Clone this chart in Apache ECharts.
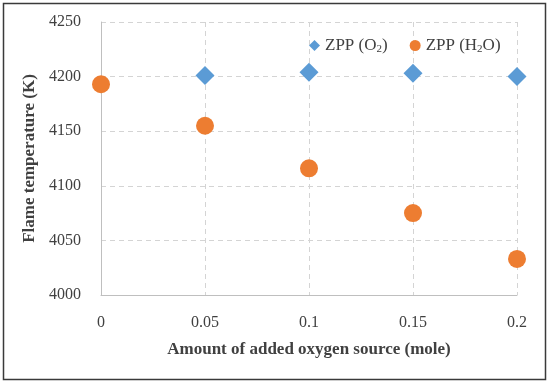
<!DOCTYPE html>
<html><head><meta charset="utf-8">
<script src="https://cdn.jsdelivr.net/npm/echarts@6/dist/echarts.min.js"></script>
<style>html,body{margin:0;padding:0;background:#fff}#c{width:550px;height:383px}</style>
</head><body><div id="c"></div>
<script>
const xValues = [0, 0.05, 0.1, 0.15, 0.2];
const o2Temps = [null, 4201, 4204, 4203, 4200];
const h2oTemps = [4193, 4155, 4116, 4075, 4033];
const xTicks = [0, 0.05, 0.1, 0.15, 0.2];
const yTicks = [4000, 4050, 4100, 4150, 4200, 4250];

const FONT = '"Liberation Serif", "DejaVu Serif", serif';
const TXT = '#404040';
const chart = echarts.init(document.getElementById('c'));
const sub = {fontSize: 11, verticalAlign: 'bottom', padding: [7, 0, 0, 0], fontFamily: FONT, color: TXT};
chart.setOption({
  animation: false,
  graphic: [{type: 'rect', shape: {x: 3.5, y: 3.5, width: 542, height: 376}, style: {fill: 'none', stroke: '#3a3a3a', lineWidth: 1.5}, silent: true}],
  grid: {left: 101, right: 33, top: 22, bottom: 88},
  legend: {
    top: 32, left: 304, itemGap: 22, itemWidth: 11, itemHeight: 11,
    textStyle: {fontFamily: FONT, fontSize: 17, color: TXT, rich: {sub: sub}},
    formatter: function (n) { return n === 'O2' ? 'ZPP (O{sub|2})' : 'ZPP (H{sub|2}O)'; },
    data: [{name: 'O2', icon: 'diamond'}, {name: 'H2O', icon: 'circle'}]
  },
  xAxis: {
    type: 'value', min: 0, max: 0.2, interval: 0.05,
    name: 'Amount of added oxygen source (mole)', nameLocation: 'middle', nameGap: 46,
    nameTextStyle: {fontFamily: FONT, fontSize: 17, fontWeight: 'bold', color: TXT},
    axisLine: {show: true, lineStyle: {color: '#bfbfbf'}}, axisTick: {show: false},
    axisLabel: {fontFamily: FONT, fontSize: 16, color: TXT, margin: 20,
      customValues: xTicks, formatter: v => String(+v.toFixed(2))},
    splitLine: {show: true, lineStyle: {type: [5, 4], color: '#d4d4d4'}}
  },
  yAxis: {
    type: 'value', min: 4000, max: 4250, interval: 50,
    name: 'Flame temperature (K)', nameLocation: 'middle', nameGap: 61, nameRotate: 90,
    nameTextStyle: {fontFamily: FONT, fontSize: 17, fontWeight: 'bold', color: TXT},
    axisLine: {show: true, lineStyle: {color: '#bfbfbf'}}, axisTick: {show: false},
    axisLabel: {fontFamily: FONT, fontSize: 16, color: TXT, margin: 20, formatter: v => String(v)},
    splitLine: {show: true, lineStyle: {type: [5, 4], color: '#d4d4d4'}}
  },
  series: [
    {name: 'O2', type: 'scatter', symbol: 'diamond', symbolSize: 19, itemStyle: {color: '#5b9bd5', opacity: 1},
     data: xValues.map((x, i) => [x, o2Temps[i]]).filter(d => d[1] !== null), z: 2},
    {name: 'H2O', type: 'scatter', symbol: 'circle', symbolSize: 18, itemStyle: {color: '#ed7d31', opacity: 1},
     data: xValues.map((x, i) => [x, h2oTemps[i]]), z: 3}
  ]
});
</script></body></html>
